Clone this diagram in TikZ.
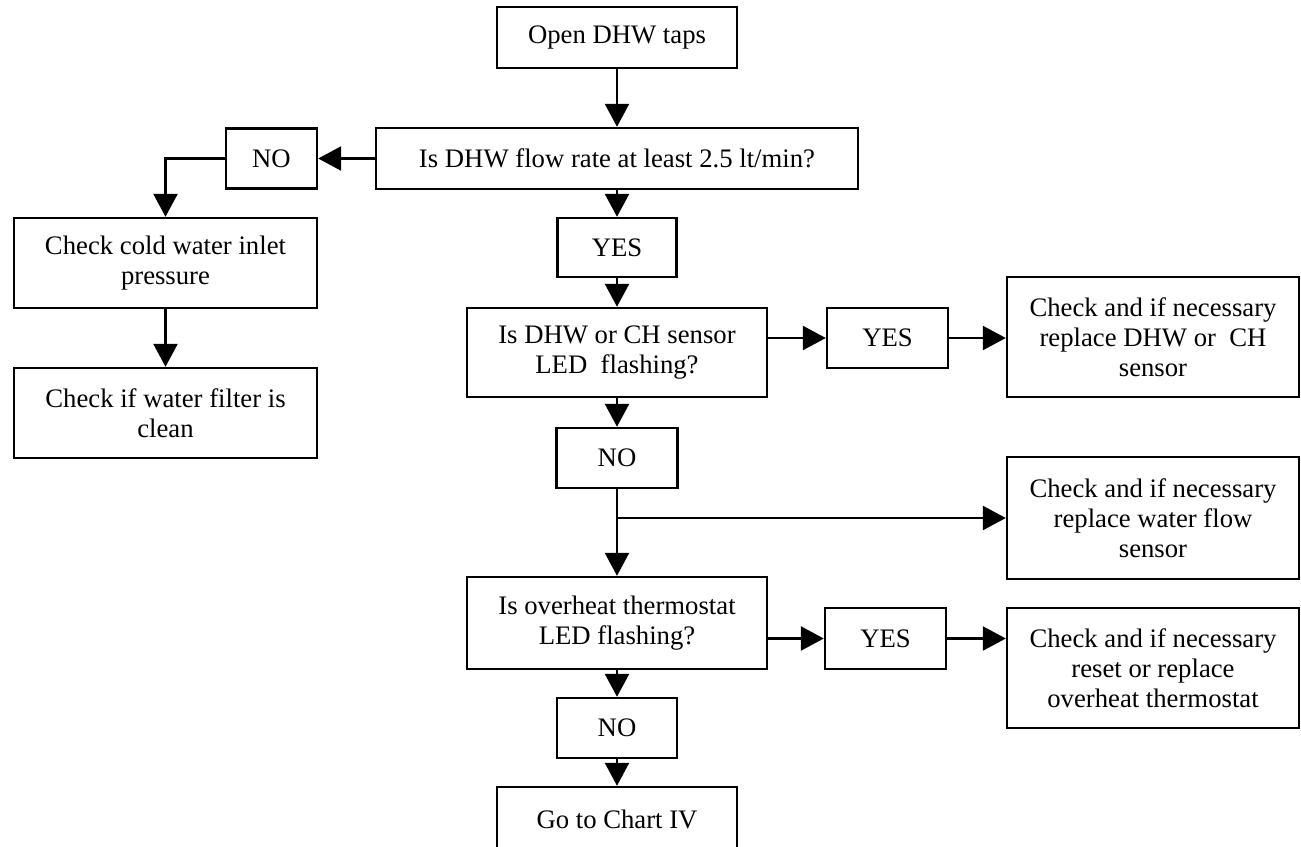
\documentclass[tikz,border=0pt]{standalone}
\usepackage{fontspec}
\setmainfont{Liberation Serif}
\usepackage{tikz}
\usetikzlibrary{arrows.meta,positioning,calc}

\begin{document}
\begin{tikzpicture}[x=0.02cm,y=-0.02cm,
  box/.style={draw,line width=1.4pt,align=center,inner sep=0pt,
    font=\fontsize{15.2}{17}\selectfont},
  flow/.style={line width=1.4pt,-{Triangle[length=0.46cm,width=0.48cm]}}]
  \useasboundingbox (0,0) rectangle (1301,846);
  \clip (0,0) rectangle (1301,846);

  % main column
  \node[box,minimum width=4.8cm,minimum height=1.22cm] (open) at (617,37.5) {Open DHW taps};
  \node[box,minimum width=9.64cm,minimum height=1.22cm] (rate) at (617,158.5) {Is DHW flow rate at least 2.5 lt/min?};
  \node[box,minimum width=2.38cm,minimum height=1.18cm] (yesA) at (617,247.5) {YES};
  \node[box,minimum width=6cm,minimum height=1.78cm] (sensor) at (617,352.5) {Is DHW or CH sensor\\LED~ flashing?};
  \node[box,minimum width=2.42cm,minimum height=1.2cm] (noB) at (617,458) {NO};
  \node[box,minimum width=6cm,minimum height=1.84cm] (stat) at (617,623) {Is overheat thermostat\\LED flashing?};
  \node[box,minimum width=2.4cm,minimum height=1.2cm] (noC) at (617,728) {NO};
  \node[box,minimum width=4.8cm,minimum height=1.28cm] (chart) at (617,819) {Go to Chart IV};

  % left branch
  \node[box,minimum width=1.82cm,minimum height=1.2cm] (noA) at (271.5,158.5) {NO};
  \node[box,minimum width=6.06cm,minimum height=1.8cm] (inlet) at (165.5,263) {Check cold water inlet\\pressure};
  \node[box,minimum width=6.06cm,minimum height=1.8cm] (filter) at (165.5,413) {Check if water filter is\\clean};

  % right branch
  \node[box,minimum width=2.42cm,minimum height=1.2cm] (yesB) at (887.5,338) {YES};
  \node[box,minimum width=5.84cm,minimum height=2.4cm] (fixsensor) at (1153,337) {Check and if necessary\\replace DHW or~ CH\\sensor};
  \node[box,minimum width=5.84cm,minimum height=2.44cm] (fixflow) at (1153,518) {Check and if necessary\\replace water flow\\sensor};
  \node[box,minimum width=2.42cm,minimum height=1.22cm] (yesC) at (885.5,638.5) {YES};
  \node[box,minimum width=5.84cm,minimum height=2.4cm] (fixstat) at (1153,668) {Check and if necessary\\reset or replace\\overheat thermostat};

  % connectors
  \draw[flow] (open) -- (rate);
  \draw[flow] (rate) -- (yesA);
  \draw[flow] (yesA) -- (sensor);
  \draw[flow] (sensor) -- (noB);
  \draw[flow] (noB) -- (stat);
  \draw[flow] (stat) -- (noC);
  \draw[flow] (noC) -- (chart);
  \draw[flow] (rate) -- (noA);
  \draw[flow] (noA.west) -| (inlet.north);
  \draw[flow] (inlet) -- (filter);
  \draw[flow] (sensor.east |- yesB.west) -- (yesB.west);
  \draw[flow] (yesB.east) -- (yesB.east -| fixsensor.west);
  \coordinate (split) at (noB.south |- fixflow.west);
  \draw[flow] (split) -- (fixflow.west);
  \draw[flow] (stat.east |- yesC.west) -- (yesC.west);
  \draw[flow] (yesC.east) -- (yesC.east -| fixstat.west);
\end{tikzpicture}
\end{document}
